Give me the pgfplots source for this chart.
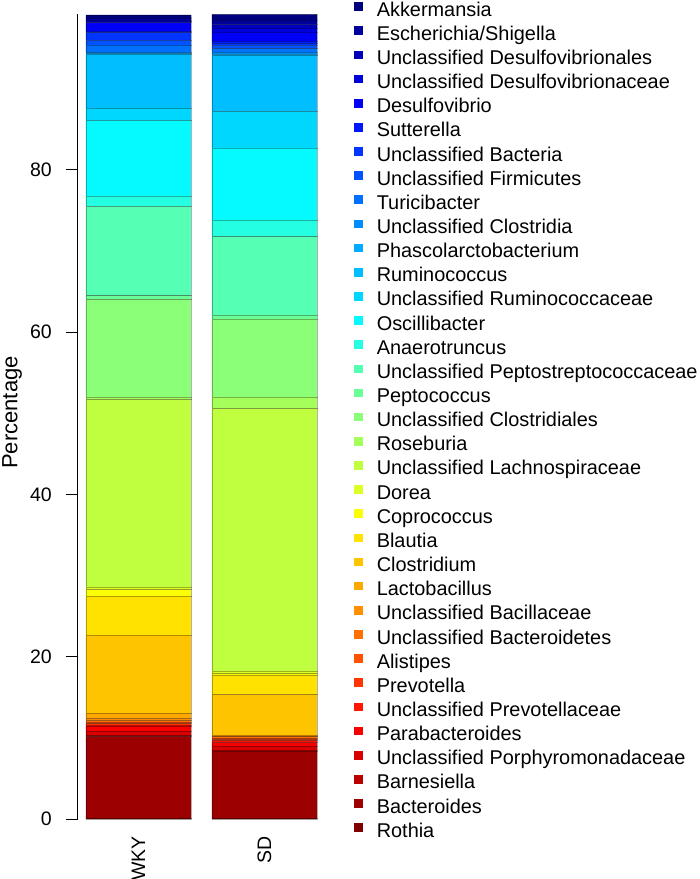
\documentclass[border=0pt]{standalone}
\usepackage{fontspec}
\setmainfont{Liberation Sans}
\usepackage{pgfplots}
\pgfplotsset{compat=1.18}
\definecolor{c0}{RGB}{0,0,127}
\definecolor{c1}{RGB}{0,0,157}
\definecolor{c2}{RGB}{0,0,187}
\definecolor{c3}{RGB}{0,0,217}
\definecolor{c4}{RGB}{0,0,247}
\definecolor{c5}{RGB}{0,22,255}
\definecolor{c6}{RGB}{0,53,255}
\definecolor{c7}{RGB}{0,82,255}
\definecolor{c8}{RGB}{0,112,255}
\definecolor{c9}{RGB}{0,142,255}
\definecolor{c10}{RGB}{0,172,255}
\definecolor{c11}{RGB}{0,190,255}
\definecolor{c12}{RGB}{0,215,255}
\definecolor{c13}{RGB}{5,250,255}
\definecolor{c14}{RGB}{37,255,225}
\definecolor{c15}{RGB}{85,255,180}
\definecolor{c16}{RGB}{105,255,150}
\definecolor{c17}{RGB}{140,255,120}
\definecolor{c18}{RGB}{165,255,90}
\definecolor{c19}{RGB}{192,255,64}
\definecolor{c20}{RGB}{220,255,37}
\definecolor{c21}{RGB}{250,255,7}
\definecolor{c22}{RGB}{255,226,0}
\definecolor{c23}{RGB}{255,196,0}
\definecolor{c24}{RGB}{255,168,0}
\definecolor{c25}{RGB}{255,142,0}
\definecolor{c26}{RGB}{255,112,0}
\definecolor{c27}{RGB}{255,82,0}
\definecolor{c28}{RGB}{255,52,0}
\definecolor{c29}{RGB}{255,22,0}
\definecolor{c30}{RGB}{247,0,0}
\definecolor{c31}{RGB}{217,0,0}
\definecolor{c32}{RGB}{187,0,0}
\definecolor{c33}{RGB}{157,0,0}
\definecolor{c34}{RGB}{127,0,0}
\newcommand{\seg}[4]{\addplot[fill=#1] coordinates {(0.7,#2) (1.9,#3)}; \addlegendentry{#4}}
\begin{document}
\begin{tikzpicture}
\begin{axis}[
  name=ax,
  scale only axis,
  width=248.2pt, height=805pt,
  xmin=0.124, xmax=2.488,
  ymin=0, ymax=99.2,
  ybar stacked,
  bar width=1,
  axis lines*=left,
  x axis line style={draw=none},
  xtick={0.7,1.9},
  xticklabels={WKY,SD},
  xtick style={draw=none},
  xticklabel style={rotate=90, anchor=east, inner sep=0pt, font=\fontsize{19.5}{22}\selectfont},
  xticklabel shift=5pt,
  ytick={0,20,40,60,80},
  tick align=outside,
  major tick length=12pt,
  ytick style={line width=1pt, black},
  y axis line style={line width=1pt, -},
  yticklabel style={anchor=east, inner sep=0pt, font=\fontsize{19.5}{22}\selectfont},
  yticklabel shift=14pt,
  /pgf/number format/assume math mode=true,
  ylabel={Percentage},
  ylabel style={at={(axis description cs:-0.266,0.505)}, anchor=center, font=\fontsize{22}{26}\selectfont},
  every axis plot/.append style={draw=black, draw opacity=0.3, line width=0.5pt},
  reverse legend,
  legend cell align=left,
  legend image code/.code={\path[draw=none, fill=none] (0pt,-4.6pt) -- (0pt,8.6pt); \path[#1, draw=none] (0pt,0pt) rectangle (8.6pt,8.6pt);},
  legend style={at={(axis description cs:1.112,1.0156)}, anchor=north west, draw=none, fill=none,
    inner sep=0pt, row sep=5.65pt, font=\fontsize{19.9}{22}\selectfont,
    nodes={inner sep=0pt, text height=14.5pt, text depth=4pt},
    /tikz/every odd column/.append style={column sep=14pt}},
]
\seg{c34}{0.15}{0.1}{Rothia}
\seg{c33}{9.99}{8.28}{Bacteroides}
\seg{c32}{0.2}{0.1}{Barnesiella}
\seg{c31}{0.5}{0.52}{Unclassified Porphyromonadaceae}
\seg{c30}{0.62}{0.45}{Parabacteroides}
\seg{c29}{0.15}{0.25}{Unclassified Prevotellaceae}
\seg{c28}{0.14}{0.1}{Prevotella}
\seg{c27}{0.2}{0.2}{Alistipes}
\seg{c26}{0.21}{0.15}{Unclassified Bacteroidetes}
\seg{c25}{0.24}{0.1}{Unclassified Bacillaceae}
\seg{c24}{0.66}{0.1}{Lactobacillus}
\seg{c23}{9.61}{5.02}{Clostridium}
\seg{c22}{4.83}{2.4}{Blautia}
\seg{c21}{0.8}{0.18}{Coprococcus}
\seg{c20}{0.3}{0.29}{Dorea}
\seg{c19}{23.1}{32.36}{Unclassified Lachnospiraceae}
\seg{c18}{0.3}{1.4}{Roseburia}
\seg{c17}{12.04}{9.6}{Unclassified Clostridiales}
\seg{c16}{0.46}{0.5}{Peptococcus}
\seg{c15}{11.0}{9.66}{Unclassified Peptostreptococcaceae}
\seg{c14}{1.3}{2.04}{Anaerotruncus}
\seg{c13}{9.3}{8.9}{Oscillibacter}
\seg{c12}{1.5}{4.5}{Unclassified Ruminococcaceae}
\seg{c11}{6.7}{6.95}{Ruminococcus}
\seg{c10}{0.05}{0.07}{Phascolarctobacterium}
\seg{c9}{0.15}{0.3}{Unclassified Clostridia}
\seg{c8}{0.88}{0.4}{Turicibacter}
\seg{c7}{0.57}{0.42}{Unclassified Firmicutes}
\seg{c6}{0.95}{0.3}{Unclassified Bacteria}
\seg{c5}{0.2}{0.23}{Sutterella}
\seg{c4}{1.03}{1.11}{Desulfovibrio}
\seg{c3}{0.2}{0.5}{Unclassified Desulfovibrionaceae}
\seg{c2}{0.15}{0.45}{Unclassified Desulfovibrionales}
\seg{c1}{0.2}{0.5}{Escherichia/Shigella}
\seg{c0}{0.4}{0.73}{Akkermansia}
\end{axis}
\pgfresetboundingbox
\path[use as bounding box] ([shift={(-78pt,-60pt)}]ax.south west) rectangle ([shift={(622pt,819pt)}]ax.south west);
\end{tikzpicture}
\end{document}
